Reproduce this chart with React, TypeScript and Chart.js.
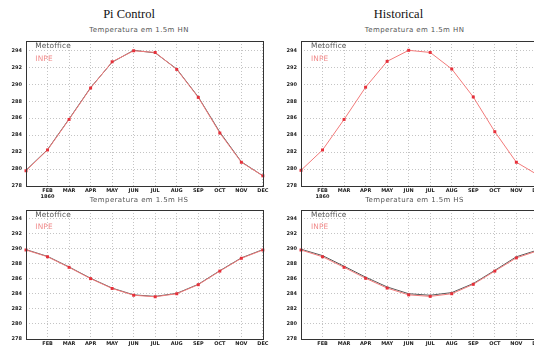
import React, { useEffect, useRef } from 'react';
import { Chart, registerables } from 'chart.js';
Chart.register(...registerables);

const monthLabels: (string | string[])[] = ['', ['FEB', '1860'], 'MAR', 'APR', 'MAY', 'JUN', 'JUL', 'AUG', 'SEP', 'OCT', 'NOV', 'DEC'];
const yTicks = [278, 280, 282, 284, 286, 288, 290, 292, 294];
const yMin = 278;
const yMax = 295.1;

const piHN_metoffice = [279.85, 282.3, 285.9, 289.6, 292.6, 294.0, 293.7, 291.8, 288.5, 284.35, 280.85, 279.2];
const piHN_inpe = [279.8, 282.25, 285.85, 289.55, 292.65, 293.95, 293.75, 291.75, 288.45, 284.25, 280.8, 279.2];
const piHS_metoffice = [289.85, 288.95, 287.55, 286.05, 284.75, 283.85, 283.65, 284.05, 285.25, 287.05, 288.75, 289.85];
const piHS_inpe = [289.8, 288.9, 287.5, 286.0, 284.7, 283.8, 283.6, 284.0, 285.2, 287.0, 288.7, 289.8];
const histHN_metoffice: number[] = [];
const histHN_inpe = [279.85, 282.25, 285.85, 289.65, 292.7, 294.0, 293.75, 291.8, 288.5, 284.4, 280.8, 279.3];
const histHS_metoffice = [289.9, 289.05, 287.65, 286.2, 284.9, 284.0, 283.8, 284.15, 285.35, 287.1, 288.9, 289.8];
const histHS_inpe = [289.8, 288.9, 287.5, 286.05, 284.75, 283.85, 283.65, 284.0, 285.25, 287.0, 288.75, 289.7];

const tickFont = { size: 5, weight: 'bold' as const, family: 'DejaVu Sans' };

function Panel(props: { left: number; top: number; width: number; height: number; met: number[]; inpe: number[] }) {
  const ref = useRef<HTMLCanvasElement>(null);
  useEffect(() => {
    const chart = new Chart(ref.current!, {
      type: 'line',
      data: {
        labels: monthLabels as any,
        datasets: [
          {
            label: 'INPE',
            data: props.inpe,
            borderColor: '#f27a7a',
            borderWidth: 1,
            pointStyle: 'rect',
            pointRadius: 2.1,
            pointBackgroundColor: '#e6303a',
            pointBorderWidth: 0,
            tension: 0,
          },
          {
            label: 'Metoffice',
            data: props.met,
            borderColor: '#5a5a5a',
            borderWidth: 1,
            pointRadius: 0,
            tension: 0,
          },
        ],
      },
      options: {
        animation: false,
        responsive: false,
        maintainAspectRatio: false,
        layout: { padding: { top: 4, right: 6.5, left: 0, bottom: 0 } },
        plugins: { legend: { display: false }, tooltip: { enabled: false }, title: { display: false } },
        scales: {
          x: {
            type: 'category',
            offset: false,
            grid: { color: '#c4c4c4', drawTicks: false, lineWidth: 1 },
            border: { display: false, dash: [1, 2] },
            ticks: { autoSkip: false, maxRotation: 0, padding: 1.5, font: tickFont, color: '#222' },
            afterFit: (s: any) => { s.height = 18; },
          },
          y: {
            min: yMin,
            max: yMax,
            grid: { color: '#c4c4c4', drawTicks: false, lineWidth: 1 },
            border: { display: false, dash: [1, 2] },
            ticks: { padding: 4, font: tickFont, color: '#222' },
            afterBuildTicks: (s: any) => { s.ticks = yTicks.map((v) => ({ value: v })); },
            afterFit: (s: any) => { s.width = 26; },
          },
        },
      } as any,
      plugins: [
        {
          id: 'box',
          afterDraw(c: any) {
            const { ctx, chartArea } = c;
            ctx.save();
            ctx.strokeStyle = '#333';
            ctx.lineWidth = 1;
            ctx.setLineDash([]);
            ctx.strokeRect(Math.round(chartArea.left) + 0.5, Math.round(chartArea.top) + 0.5, Math.round(chartArea.right - chartArea.left), Math.round(chartArea.bottom - chartArea.top));
            ctx.restore();
          },
        },
      ],
    });
    return () => chart.destroy();
  }, []);
  return (
    <canvas
      ref={ref}
      width={props.width}
      height={props.height}
      style={{ position: 'absolute', left: props.left, top: props.top, width: props.width, height: props.height }}
    />
  );
}

function Text(props: { cx?: number; x?: number; cy: number; size: number; color: string; family: string; children: any; spacing?: number }) {
  const style: any = {
    position: 'absolute',
    top: props.cy - props.size / 2,
    fontSize: props.size,
    lineHeight: `${props.size}px`,
    color: props.color,
    fontFamily: props.family,
    whiteSpace: 'pre',
    letterSpacing: props.spacing ?? 0,
  };
  if (props.cx !== undefined) {
    style.left = props.cx - 150;
    style.width = 300;
    style.textAlign = 'center';
  } else {
    style.left = props.x;
  }
  return <div style={style}>{props.children}</div>;
}

export default function App() {
  const sub = 'DejaVu Sans';
  const ls = 7.4;
  return (
    <div style={{ position: 'fixed', left: 0, top: 0, width: 534, height: 347, overflow: 'hidden', background: '#fff' }}>
      <Panel left={0} top={34} width={270} height={170} met={piHN_metoffice} inpe={piHN_inpe} />
      <Panel left={0} top={203} width={270} height={154} met={piHS_metoffice} inpe={piHS_inpe} />
      <Panel left={275} top={34} width={270} height={170} met={histHN_metoffice} inpe={histHN_inpe} />
      <Panel left={275} top={203} width={270} height={154} met={histHS_metoffice} inpe={histHS_inpe} />

      <Text cx={129} cy={14} size={12.5} color="#111" family="Liberation Serif">Pi Control</Text>
      <Text cx={398.5} cy={14} size={12.5} color="#111" family="Liberation Serif">Historical</Text>

      <Text cx={139} cy={30.7} size={7} color="#555" family={sub} spacing={0.4}>Temperatura em 1.5m HN</Text>
      <Text cx={139} cy={200} size={7} color="#555" family={sub} spacing={0.4}>Temperatura em 1.5m HS</Text>
      <Text cx={414.5} cy={30.7} size={7} color="#555" family={sub} spacing={0.4}>Temperatura em 1.5m HN</Text>
      <Text cx={414.5} cy={200} size={7} color="#555" family={sub} spacing={0.4}>Temperatura em 1.5m HS</Text>

      <Text x={35.3} cy={45.4} size={ls} color="#555" family={sub} spacing={0.15}>Metoffice</Text>
      <Text x={35.3} cy={58.3} size={ls} color="#f08a8a" family={sub} spacing={0.15}>INPE</Text>
      <Text x={35.3} cy={214.3} size={ls} color="#555" family={sub} spacing={0.15}>Metoffice</Text>
      <Text x={35.3} cy={226.3} size={ls} color="#f08a8a" family={sub} spacing={0.15}>INPE</Text>
      <Text x={311} cy={45.4} size={ls} color="#555" family={sub} spacing={0.15}>Metoffice</Text>
      <Text x={311} cy={58.3} size={ls} color="#f08a8a" family={sub} spacing={0.15}>INPE</Text>
      <Text x={311} cy={214.3} size={ls} color="#555" family={sub} spacing={0.15}>Metoffice</Text>
      <Text x={311} cy={226.3} size={ls} color="#f08a8a" family={sub} spacing={0.15}>INPE</Text>
    </div>
  );
}
